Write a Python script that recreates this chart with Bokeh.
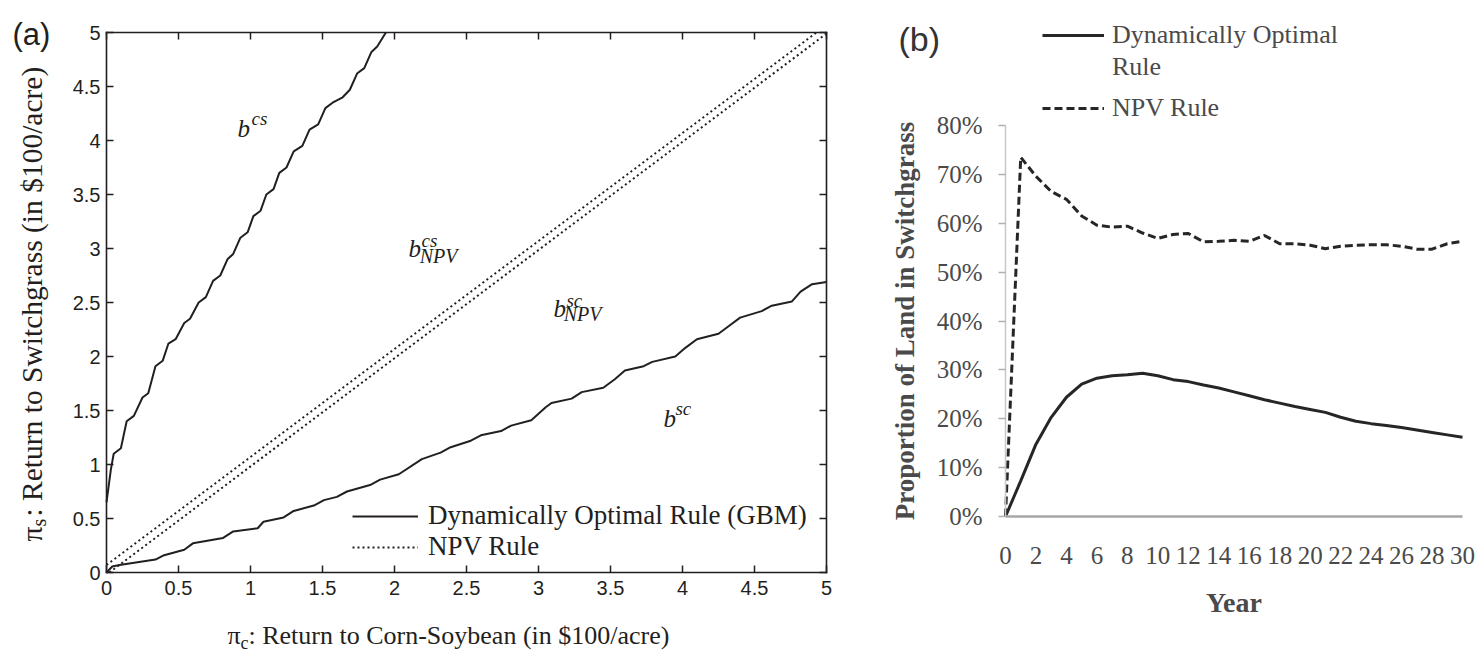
from math import pi
from bokeh.plotting import figure
from bokeh.layouts import row
from bokeh.models import (Range1d, LinearAxis, FixedTicker, CustomJSTickFormatter,
                          PrintfTickFormatter, Legend, LegendItem, Label)
from bokeh.embed import file_html
from bokeh.resources import INLINE

# ---------------- Panel (a) data ----------------
bcs_x = [0.0, 0.03, 0.05, 0.10, 0.14, 0.19, 0.25, 0.29, 0.34, 0.39, 0.43, 0.48, 0.54, 0.58,
         0.64, 0.69, 0.74, 0.79, 0.84, 0.88, 0.93, 0.98, 1.02, 1.07, 1.11, 1.16, 1.20, 1.25,
         1.30, 1.36, 1.41, 1.47, 1.52, 1.57, 1.64, 1.69, 1.74, 1.79, 1.84, 1.88, 1.94]
bcs_y = [0.65, 0.95, 1.10, 1.15, 1.40, 1.45, 1.62, 1.66, 1.91, 1.96, 2.12, 2.16, 2.31, 2.35,
         2.50, 2.55, 2.70, 2.75, 2.90, 2.95, 3.10, 3.15, 3.30, 3.35, 3.50, 3.55, 3.70, 3.75,
         3.90, 3.95, 4.10, 4.15, 4.30, 4.35, 4.40, 4.47, 4.62, 4.67, 4.82, 4.87, 5.00]

bsc_x = [0.0, 0.04, 0.09, 0.34, 0.40, 0.54, 0.60, 0.81, 0.88, 1.05, 1.09, 1.23, 1.30, 1.44,
         1.51, 1.60, 1.67, 1.83, 1.90, 2.03, 2.19, 2.32, 2.39, 2.53, 2.60, 2.74, 2.81, 2.95,
         3.05, 3.09, 3.23, 3.30, 3.45, 3.53, 3.60, 3.73, 3.79, 3.95, 4.02, 4.10, 4.25, 4.32,
         4.40, 4.55, 4.62, 4.76, 4.82, 4.90, 5.0]
bsc_y = [0.0, 0.055, 0.07, 0.12, 0.16, 0.21, 0.27, 0.32, 0.38, 0.41, 0.47, 0.51, 0.57, 0.62,
         0.67, 0.70, 0.75, 0.81, 0.86, 0.91, 1.05, 1.11, 1.16, 1.22, 1.27, 1.31, 1.36, 1.41,
         1.53, 1.57, 1.61, 1.67, 1.71, 1.79, 1.87, 1.91, 1.95, 2.0, 2.08, 2.16, 2.21, 2.28,
         2.36, 2.42, 2.47, 2.51, 2.60, 2.67, 2.69]

npv_cs_x = [0.0, 4.93]
npv_cs_y = [0.07, 5.0]
npv_sc_x = [0.02, 5.0]
npv_sc_y = [0.0, 4.99]

a_ticks = [0, 0.5, 1, 1.5, 2, 2.5, 3, 3.5, 4, 4.5, 5]

# ---------------- Panel (b) data ----------------
years = list(range(31))
dyn_rule = [0, 7.3, 14.8, 20.3, 24.4, 27.1, 28.3, 28.8, 29.0, 29.3, 28.8, 28.0, 27.6, 26.9,
            26.3, 25.5, 24.7, 23.9, 23.2, 22.5, 21.9, 21.3, 20.3, 19.5, 19.0, 18.6, 18.2,
            17.7, 17.2, 16.7, 16.2]
npv_rule = [0, 73.5, 69.6, 66.5, 64.9, 61.5, 59.6, 59.2, 59.4, 58.0, 56.9, 57.7, 57.9, 56.2,
            56.3, 56.5, 56.3, 57.5, 55.8, 55.8, 55.5, 54.8, 55.3, 55.5, 55.6, 55.6, 55.3,
            54.7, 54.7, 55.8, 56.3]
b_xticks = list(range(0, 31, 2))
b_yticks = list(range(0, 81, 10))

INK = "#231f20"
GRAY_TXT = "#4a4a4a"
SERIF = "Liberation Serif"
SANS = "Liberation Sans"

W1, W2, H = 880, 604, 651

# ======================= Panel (a) =======================
# frame covers the whole canvas; the box is drawn by four axes fixed at 0 and 5
PXA, PYA = 144.0, 108.0          # pixels per unit
OXA, OYA = 106.0, 572.0          # pixel position of (0, 0)
p1 = figure(width=W1, height=H,
            x_range=Range1d(-OXA / PXA, (W1 - OXA) / PXA),
            y_range=Range1d(-(H - OYA) / PYA, OYA / PYA),
            output_backend="svg", toolbar_location=None, tools="", min_border=0)
p1.xgrid.visible = False
p1.ygrid.visible = False
p1.outline_line_color = None
p1.background_fill_color = "white"
p1.border_fill_color = "white"

fmt = CustomJSTickFormatter(code="return String(tick)")
blank = CustomJSTickFormatter(code="return ''")

def style_a(ax, show, loc):
    ax.ticker = FixedTicker(ticks=a_ticks)
    ax.formatter = fmt if show else blank
    ax.fixed_location = loc
    ax.bounds = (0, 5)
    ax.major_tick_in = 7
    ax.major_tick_out = 0
    ax.minor_tick_line_color = None
    ax.axis_line_color = INK
    ax.axis_line_width = 1.6
    ax.axis_line_cap = "square"
    ax.major_tick_line_color = INK
    ax.major_tick_line_width = 1.5
    ax.major_label_text_font = SANS
    ax.major_label_text_color = INK
    ax.major_label_text_font_size = "20px" if show else "0px"

style_a(p1.xaxis[0], True, 0)
style_a(p1.yaxis[0], True, 0)
p1.xaxis[0].major_label_standoff = 8
p1.yaxis[0].major_label_standoff = 6
top_ax = LinearAxis()
right_ax = LinearAxis()
style_a(top_ax, False, 5)
style_a(right_ax, False, 5)
p1.add_layout(top_ax, "above")
p1.add_layout(right_ax, "right")

r_bcs = p1.line(bcs_x, bcs_y, line_color=INK, line_width=2)
r_bsc = p1.line(bsc_x, bsc_y, line_color=INK, line_width=2)
r_npvcs = p1.line(npv_cs_x, npv_cs_y, line_color=INK, line_width=2, line_dash="2 3")
r_npvsc = p1.line(npv_sc_x, npv_sc_y, line_color=INK, line_width=2, line_dash="2 3")

leg_a = Legend(items=[LegendItem(label="Dynamically Optimal Rule (GBM)", renderers=[r_bcs]),
                      LegendItem(label="NPV Rule", renderers=[r_npvcs])],
               location=(352, 89), glyph_width=66, glyph_height=30, label_height=30,
               label_standoff=10, spacing=0, padding=0, margin=0,
               label_text_font=SERIF, label_text_font_size="27px", label_text_color=INK,
               border_line_alpha=0, background_fill_alpha=0)
p1.add_layout(leg_a)

def lab(p, x, y, text, size, font=SERIF, style="normal", color=INK, angle=0):
    p.add_layout(Label(x=x, y=y, text=text, text_font=font, text_font_size=size,
                       text_font_style=style, text_color=color, text_baseline="alphabetic",
                       text_align="left", angle=angle))

# region labels
lab(p1, 0.91, 4.11, "b", "25px", style="italic")
lab(p1, 1.007, 4.204, "cs", "19px", style="italic")
lab(p1, 2.097, 3.0, "b", "25px", style="italic")
lab(p1, 2.1875, 3.074, "cs", "19px", style="italic")
lab(p1, 2.175, 2.935, "NPV", "20px", style="italic")
lab(p1, 3.104, 2.444, "b", "25px", style="italic")
lab(p1, 3.194, 2.519, "sc", "19px", style="italic")
lab(p1, 3.175, 2.398, "NPV", "20px", style="italic")
lab(p1, 3.868, 1.426, "b", "25px", style="italic")
lab(p1, 3.951, 1.519, "sc", "19px", style="italic")

# axis titles (with subscripts)
lab(p1, (227 - OXA) / PXA, (OYA - 635) / PYA, "\u03c0", "26px")
lab(p1, (240 - OXA) / PXA, (OYA - 642) / PYA, "c", "18px")
lab(p1, (248 - OXA) / PXA, (OYA - 635) / PYA, ": Return to Corn-Soybean (in $100/acre)", "26px")
lab(p1, (31 - OXA) / PXA, (OYA - 541) / PYA, "\u03c0", "29.5px", angle=pi / 2)
lab(p1, (38 - OXA) / PXA, (OYA - 526) / PYA, "s", "20px", angle=pi / 2)
lab(p1, (31 - OXA) / PXA, (OYA - 516) / PYA, ": Return to Switchgrass (in $100/acre)", "29.5px", angle=pi / 2)
lab(p1, (12 - OXA) / PXA, (OYA - 34) / PYA, "(a)", "31px", font=SANS)

# ======================= Panel (b) =======================
OXB = 1005.0 - W1               # pixel x of year 0 inside this canvas
PXB = (1462.0 - 1005.0) / 30.0  # pixels per year
OYB = 516.0                     # pixel y of 0 %
PYB = (516.0 - 125.0) / 80.0    # pixels per percent
p2 = figure(width=W2, height=H,
            x_range=Range1d(-OXB / PXB, (W2 - OXB) / PXB),
            y_range=Range1d(-(H - OYB) / PYB, OYB / PYB),
            output_backend="svg", toolbar_location=None, tools="", min_border=0)
p2.xgrid.visible = False
p2.ygrid.visible = False
p2.outline_line_color = None
p2.background_fill_color = "white"
p2.border_fill_color = "white"

xa = p2.xaxis[0]
xa.ticker = FixedTicker(ticks=b_xticks)
xa.fixed_location = 0
xa.bounds = (0, 30)
xa.major_tick_in = 0
xa.major_tick_out = 0
xa.minor_tick_line_color = None
xa.axis_line_color = "#a6a6a6"
xa.axis_line_width = 2.5
xa.major_label_text_font = SERIF
xa.major_label_text_font_size = "25px"
xa.major_label_text_color = GRAY_TXT
xa.major_label_standoff = 30
xa.axis_label = "Year"
xa.axis_label_text_font = SERIF
xa.axis_label_text_font_style = "bold"
xa.axis_label_text_font_size = "28px"
xa.axis_label_text_color = GRAY_TXT
xa.axis_label_standoff = 20

ya = p2.yaxis[0]
ya.ticker = FixedTicker(ticks=b_yticks)
ya.formatter = PrintfTickFormatter(format="%d%%")
ya.fixed_location = 0
ya.bounds = (0, 80)
ya.major_tick_in = 0
ya.major_tick_out = 7
ya.minor_tick_line_color = None
ya.axis_line_color = "#c8c8c8"
ya.axis_line_width = 1.5
ya.major_tick_line_color = "#b0b0b0"
ya.major_tick_line_width = 1.5
ya.major_label_text_font = SERIF
ya.major_label_text_font_size = "25px"
ya.major_label_text_color = GRAY_TXT
ya.major_label_standoff = 16
ya.axis_label = "Proportion of Land in Switchgrass"
ya.axis_label_text_font = SERIF
ya.axis_label_text_font_style = "bold"
ya.axis_label_text_font_size = "27px"
ya.axis_label_text_color = GRAY_TXT
ya.axis_label_standoff = 14

r_dyn = p2.line(years, dyn_rule, line_color="#262626", line_width=3)
r_npv = p2.line(years, npv_rule, line_color="#262626", line_width=3, line_dash="8 4")
r_blank = p2.line([], [], line_alpha=0)

legend_style = dict(glyph_width=62, glyph_height=32, label_height=32, label_standoff=8,
                    spacing=0, padding=0, margin=0, label_text_font=SERIF,
                    label_text_font_size="26px", label_text_color=GRAY_TXT,
                    border_line_alpha=0, background_fill_alpha=0)
leg_b1 = Legend(items=[LegendItem(label="Dynamically Optimal", renderers=[r_dyn]),
                       LegendItem(label="Rule", renderers=[r_blank])],
                location=(1042 - W1, H - 83), **legend_style)
leg_b2 = Legend(items=[LegendItem(label="NPV Rule", renderers=[r_npv])],
                location=(1042 - W1, H - 124), **legend_style)
p2.add_layout(leg_b1)
p2.add_layout(leg_b2)

lab(p2, (898 - W1 - OXB) / PXB, (OYB - 38) / PYB, "(b)", "34px", font=SANS, color="#333333")

layout = row(p1, p2)
open("out.html", "w").write(file_html(layout, INLINE))
